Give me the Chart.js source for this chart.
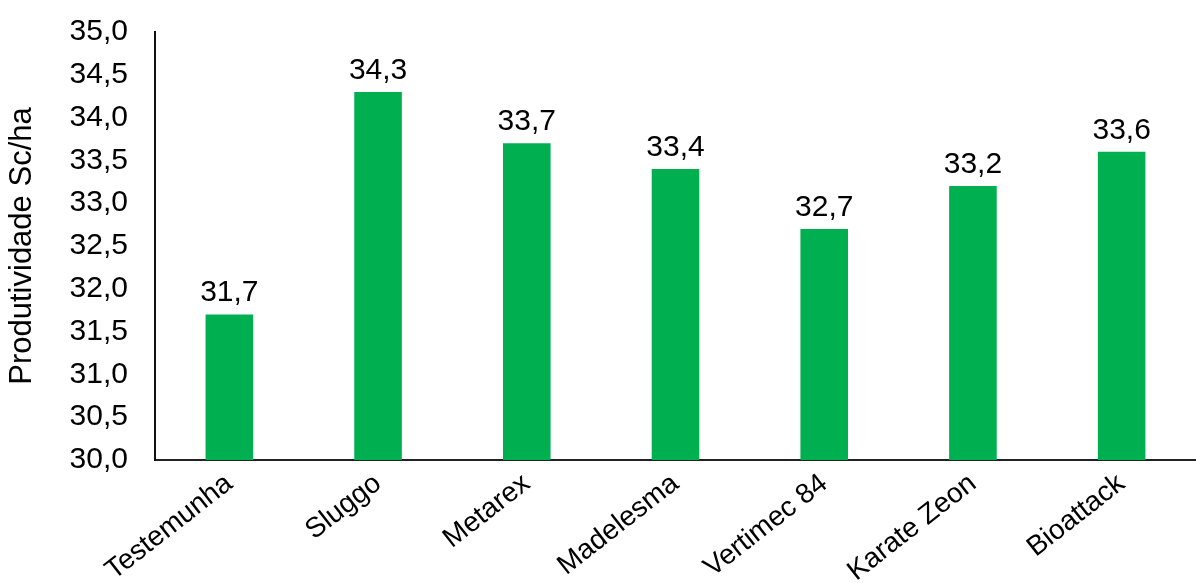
<!DOCTYPE html>
<html>
<head>
<meta charset="utf-8">
<script src="https://cdn.jsdelivr.net/npm/chart.js@4/dist/chart.umd.min.js"></script>
<style>
  html, body { margin: 0; padding: 0; background: #fff; }
  #wrap { width: 1196px; height: 583px; }
</style>
</head>
<body>
<div id="wrap"><canvas id="prodChart"></canvas></div>
<script>
const categories = ["Testemunha", "Sluggo", "Metarex", "Madelesma", "Vertimec 84", "Karate Zeon", "Bioattack"];
const produtividade = [31.7, 34.3, 33.7, 33.4, 32.7, 33.2, 33.6];
const yTitle = "Produtividade Sc/ha";

const fmt = (v) => v.toFixed(1).replace(".", ",");

// draws value labels above each bar
const valueLabels = {
  id: "valueLabels",
  afterDatasetsDraw(chart) {
    const ctx = chart.ctx;
    const meta = chart.getDatasetMeta(0);
    ctx.save();
    ctx.font = "30px 'Liberation Sans', Arial, sans-serif";
    ctx.fillStyle = "#000";
    ctx.textAlign = "center";
    ctx.textBaseline = "alphabetic";
    meta.data.forEach((bar, i) => {
      ctx.fillText(fmt(produtividade[i]), bar.x, bar.y - 13);
    });
    ctx.restore();
  }
};

Chart.defaults.font.family = "'Liberation Sans', Arial, sans-serif";
Chart.defaults.color = "#000";

new Chart(document.getElementById("prodChart"), {
  type: "bar",
  data: {
    labels: categories,
    datasets: [{
      data: produtividade,
      backgroundColor: "#00B050",
      barPercentage: 0.32,
      categoryPercentage: 1
    }]
  },
  options: {
    responsive: true,
    maintainAspectRatio: false,
    animation: false,
    layout: { padding: { top: 32, right: 0, left: 0, bottom: 0 } },
    plugins: { legend: { display: false }, tooltip: { enabled: false } },
    scales: {
      x: {
        grid: { display: false, drawTicks: false },
        border: { display: true, color: "#222", width: 2 },
        ticks: { font: { size: 28 }, maxRotation: 38, minRotation: 38, padding: 7, autoSkip: false },
        afterFit: (s) => { s.height = 123; s.paddingLeft = 0; s.paddingRight = 0; }
      },
      y: {
        min: 30,
        max: 35,
        grid: { display: false, drawTicks: false },
        border: { display: true, color: "#111", width: 2 },
        ticks: { stepSize: 0.5, font: { size: 30 }, padding: 27, callback: (v) => fmt(v) },
        title: { display: true, text: yTitle, font: { size: 31 }, padding: { bottom: 6 } },
        afterFit: (s) => { s.width = 155; s.paddingTop = 0; s.paddingBottom = 0; }
      }
    }
  },
  plugins: [valueLabels]
});
</script>
</body>
</html>
